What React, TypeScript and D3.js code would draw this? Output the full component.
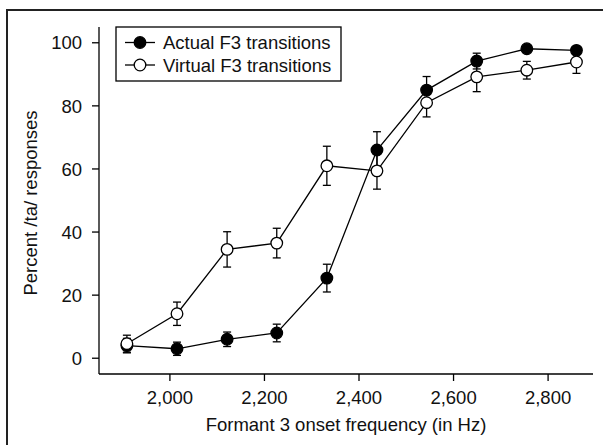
import React from "react";
import * as d3 from "d3";

const freqs = [1909, 2015, 2121, 2226, 2332, 2438, 2543, 2649, 2755, 2860];
const actual = [4, 3, 6, 8, 25.4, 66, 85, 94.2, 98.1, 97.6];
const actualErr = [2.3, 2.1, 2.3, 2.8, 4.4, 5.8, 4.3, 2.5, 0.8, 0.8];
const virtual = [4.6, 14.1, 34.5, 36.5, 61, 59.4, 81, 89.2, 91.3, 93.9];
const virtualErr = [2.7, 3.7, 5.6, 4.7, 6.2, 5.8, 4.5, 4.7, 2.8, 3.6];
const xTicks = [2000, 2200, 2400, 2600, 2800];
const yTicks = [0, 20, 40, 60, 80, 100];
const seriesNames = ["Actual F3 transitions", "Virtual F3 transitions"];

const W = 603;
const H = 445;
const FONT = "'Liberation Sans', Arial, Helvetica, sans-serif";
const FS = 18.5;

export default function App() {
  const x = d3.scaleLinear().domain([1850, 2895]).range([99, 593]);
  const y = d3.scaleLinear().domain([-5, 105]).range([374, 27]);
  const line = d3
    .line<[number, number]>()
    .x((d) => x(d[0]))
    .y((d) => y(d[1]));

  const series = [
    { name: seriesNames[0], vals: actual, err: actualErr, fill: "#000" },
    { name: seriesNames[1], vals: virtual, err: virtualErr, fill: "#fff" },
  ];
  const fmt = d3.format(",");
  const cap = 4;
  const r = 5.8;

  return (
    <svg
      width={W}
      height={H}
      style={{ position: "absolute", left: 0, top: 0, display: "block" }}
      fontFamily={FONT}
    >
      <rect x={0} y={0} width={W} height={H} fill="#fff" />
      <rect x={7} y={10} width={W + 20} height={H + 20} fill="none" stroke="#222" strokeWidth={2} />
      {/* axes */}
      <line x1={99} x2={99} y1={y(105)} y2={y(-5)} stroke="#000" strokeWidth={1.3} />
      <line x1={99} x2={593} y1={y(-5)} y2={y(-5)} stroke="#000" strokeWidth={1.3} />
      {yTicks.map((t) => (
        <g key={"y" + t}>
          <line x1={92} x2={99} y1={y(t)} y2={y(t)} stroke="#000" strokeWidth={1.3} />
          <text x={82} y={y(t)} dy="0.36em" textAnchor="end" fontSize={FS} fill="#111">
            {t}
          </text>
        </g>
      ))}
      {xTicks.map((t) => (
        <g key={"x" + t}>
          <line x1={x(t)} x2={x(t)} y1={374} y2={381} stroke="#000" strokeWidth={1.3} />
          <text x={x(t)} y={404} textAnchor="middle" fontSize={FS} fill="#111">
            {fmt(t)}
          </text>
        </g>
      ))}
      <text x={346} y={431} textAnchor="middle" fontSize={FS} fill="#111">
        Formant 3 onset frequency (in Hz)
      </text>
      <text
        transform={`translate(37,203) rotate(-90)`}
        textAnchor="middle"
        fontSize={FS}
        fill="#111"
      >
        Percent /ta/ responses
      </text>
      {/* series */}
      {series.map((s, si) => {
        const pts = freqs.map((f, i) => [f, s.vals[i]] as [number, number]);
        return (
          <g key={"s" + si}>
            <path d={line(pts) || ""} fill="none" stroke="#000" strokeWidth={1.3} />
          </g>
        );
      })}
      {series.map((s, si) => (
        <g key={"e" + si}>
          {freqs.map((f, i) => {
            const cx = x(f);
            const top = y(s.vals[i] + s.err[i]);
            const bot = y(s.vals[i] - s.err[i]);
            return (
              <g key={i} stroke="#000" strokeWidth={1.3}>
                <line x1={cx} x2={cx} y1={top} y2={bot} />
                <line x1={cx - cap} x2={cx + cap} y1={top} y2={top} />
                <line x1={cx - cap} x2={cx + cap} y1={bot} y2={bot} />
              </g>
            );
          })}
        </g>
      ))}
      {series.map((s, si) => (
        <g key={"m" + si}>
          {freqs.map((f, i) => (
            <circle
              key={i}
              cx={x(f)}
              cy={y(s.vals[i])}
              r={r}
              fill={s.fill}
              stroke="#000"
              strokeWidth={1.3}
            />
          ))}
        </g>
      ))}
      {/* legend */}
      <rect x={116} y={27} width={225} height={54} fill="#fff" stroke="#000" strokeWidth={1.3} />
      {series.map((s, si) => {
        const ly = 42.5 + si * 22.5;
        return (
          <g key={"l" + si}>
            <line x1={125} x2={155} y1={ly} y2={ly} stroke="#000" strokeWidth={1.3} />
            <circle cx={140} cy={ly} r={r} fill={s.fill} stroke="#000" strokeWidth={1.3} />
            <text x={163} y={ly} dy="0.36em" fontSize={FS} fill="#111">
              {s.name}
            </text>
          </g>
        );
      })}
    </svg>
  );
}
